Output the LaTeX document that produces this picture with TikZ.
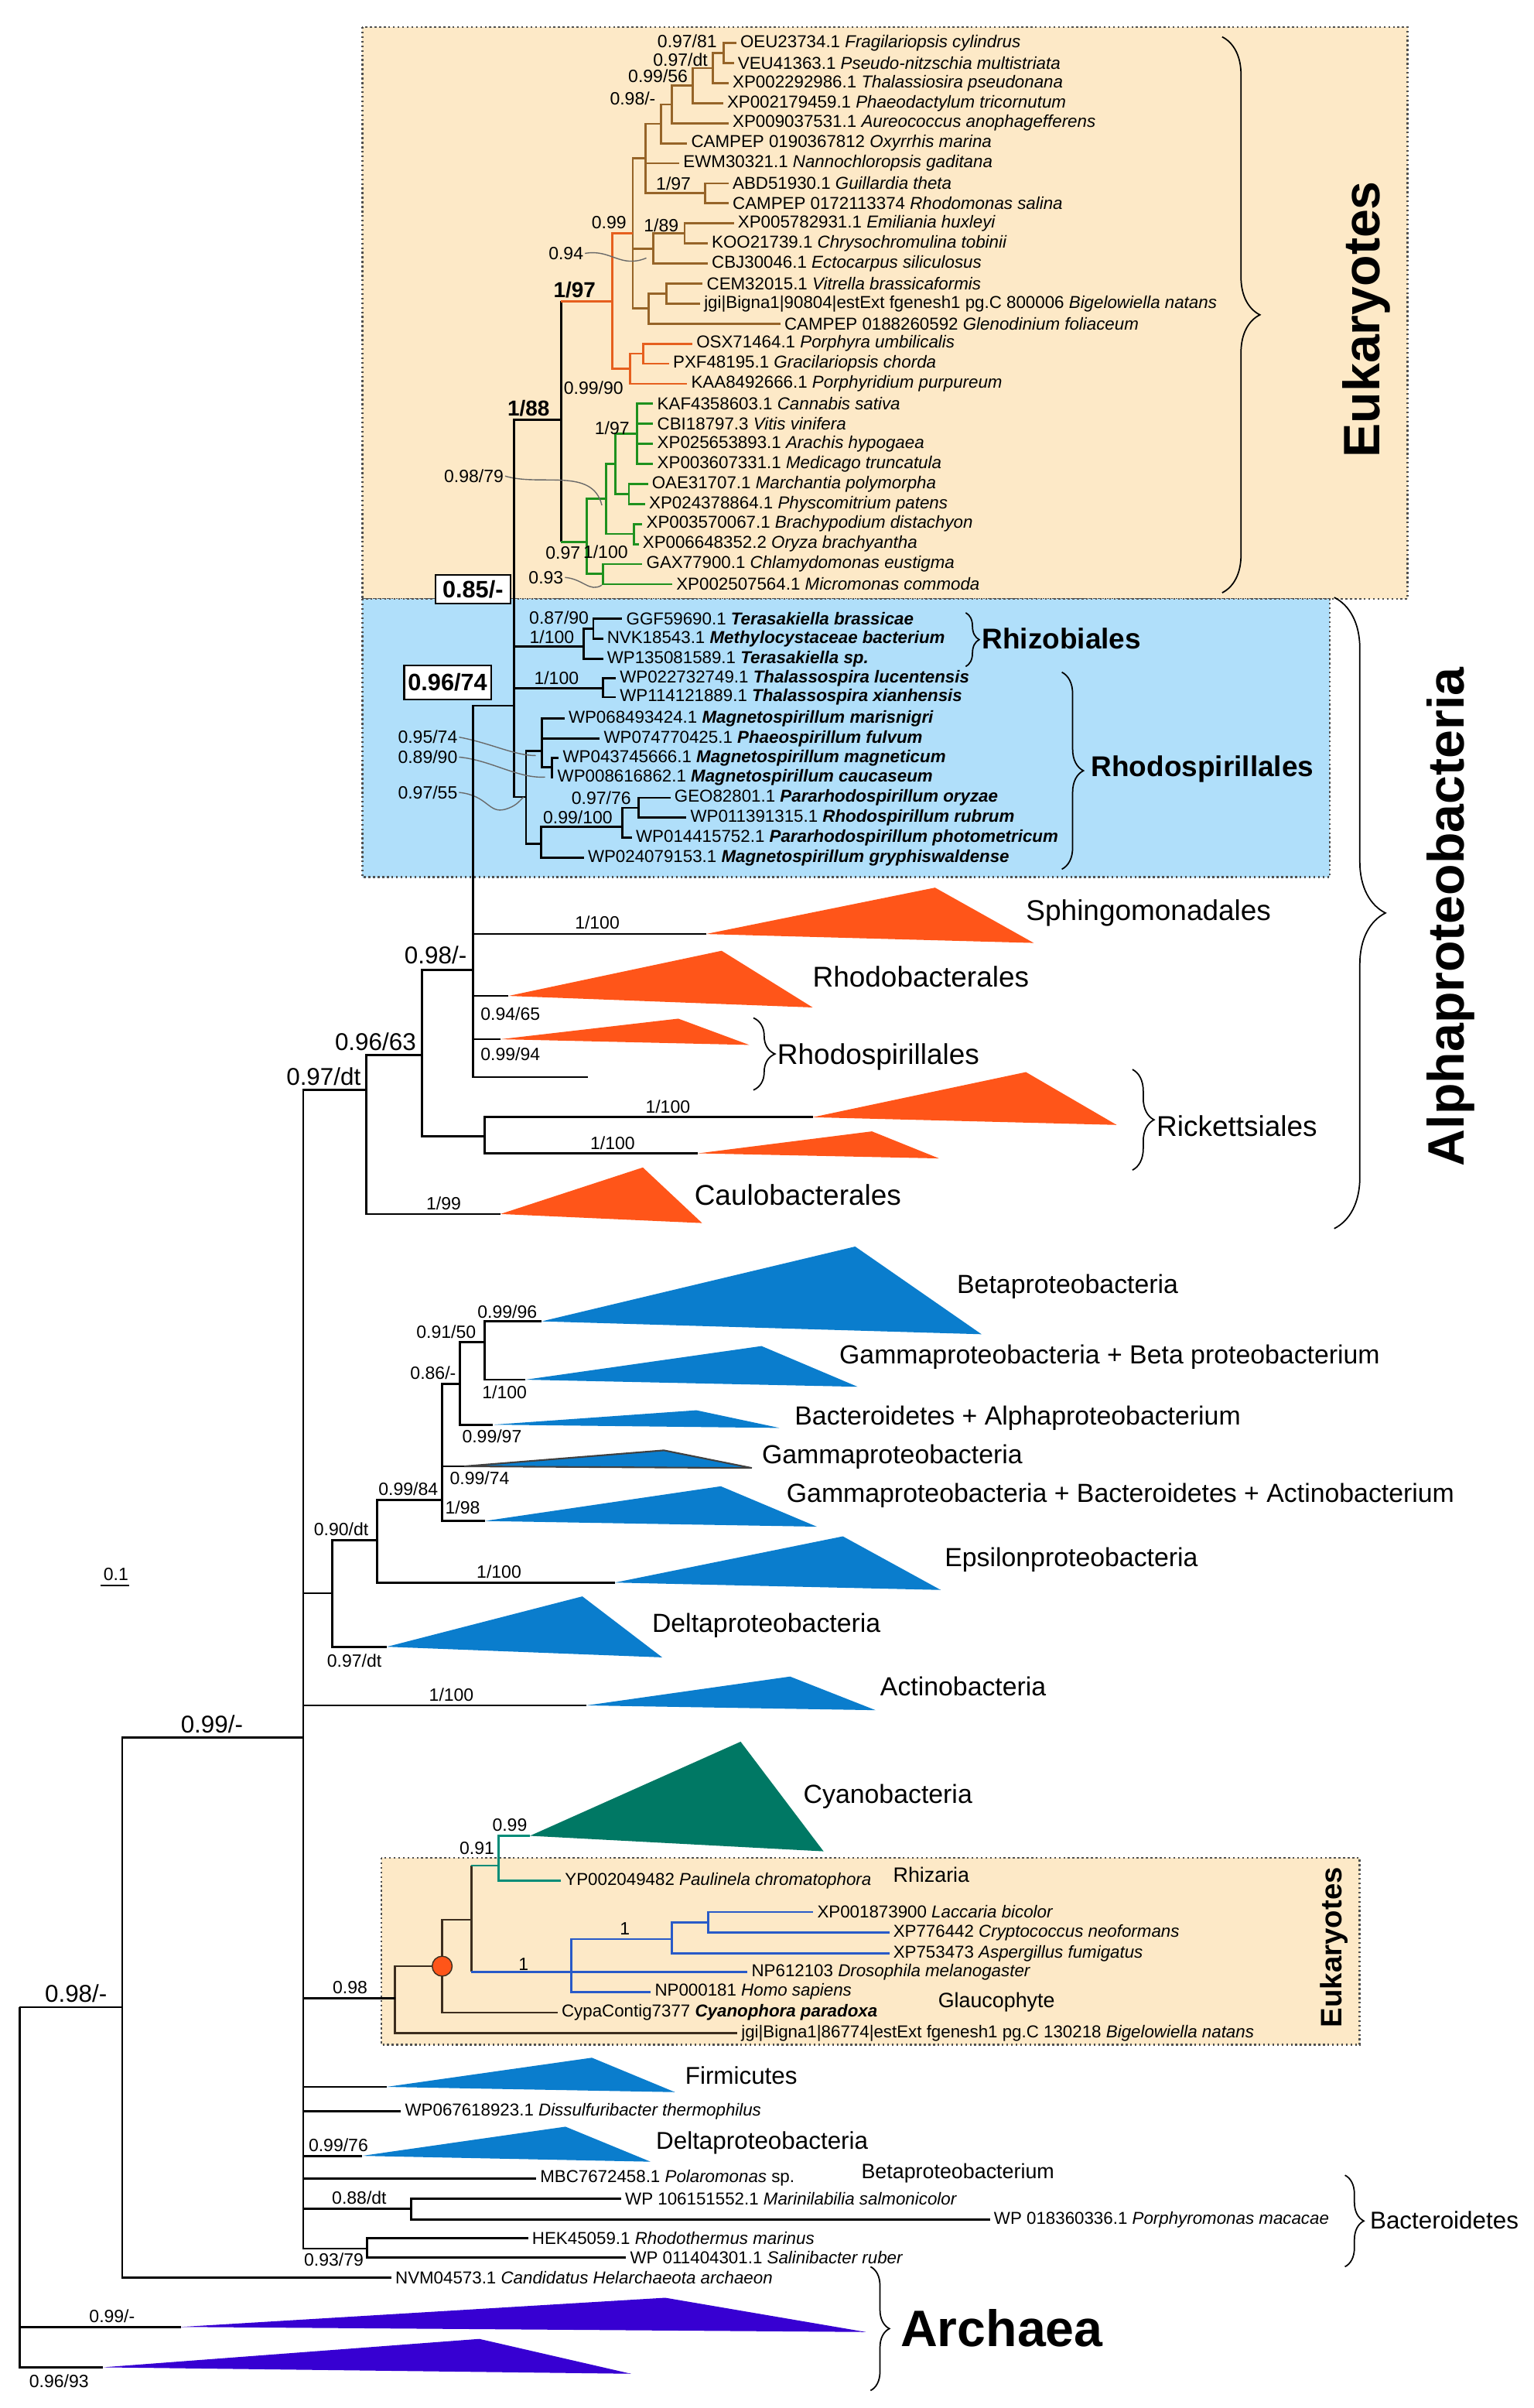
\documentclass[tikz,border=0pt]{standalone}
\usepackage{fontspec}
\setmainfont{Liberation Sans}
\usetikzlibrary{decorations.pathreplacing}

\definecolor{eukbg}{RGB}{253,233,199}
\definecolor{alphabg}{RGB}{176,223,250}
\definecolor{brownbr}{RGB}{150,100,40}
\definecolor{orangebr}{RGB}{230,95,30}
\definecolor{greenbr}{RGB}{30,145,30}
\definecolor{tealbr}{RGB}{0,140,120}
\definecolor{bluebr}{RGB}{40,90,200}
\definecolor{darkbr}{RGB}{60,45,30}
\definecolor{alphatri}{RGB}{255,85,25}
\definecolor{protri}{RGB}{10,125,205}
\definecolor{cyantri}{RGB}{0,120,100}
\definecolor{archtri}{RGB}{55,0,210}
\definecolor{leadgray}{RGB}{105,105,105}
\definecolor{boxline}{RGB}{80,80,80}

\tikzset{
  brln/.style={line width=0.8pt},
  leaf/.style={anchor=west, inner xsep=1.3pt, inner ysep=0pt, font=\fontsize{6.4}{7}\selectfont},
  supp/.style={inner sep=0.4pt, font=\fontsize{6.6}{7}\selectfont},
  bigsupp/.style={inner sep=0.4pt, font=\fontsize{9}{10}\selectfont},
  boldsupp/.style={inner sep=0.4pt, font=\bfseries\fontsize{8}{9}\selectfont},
  boxlab/.style={draw, fill=white, line width=0.6pt, inner sep=0pt, font=\bfseries\fontsize{8.8}{10}\selectfont},
  cladea/.style={anchor=west, inner sep=0pt, font=\fontsize{10.6}{12}\selectfont},
  clade/.style={anchor=west, inner sep=0pt, font=\fontsize{9.7}{11}\selectfont},
  cladesm/.style={anchor=west, inner sep=0pt, font=\fontsize{9}{11}\selectfont},
  tag/.style={anchor=west, inner sep=0pt, font=\fontsize{7.7}{9}\selectfont},
  order/.style={anchor=west, inner sep=0pt, font=\bfseries\fontsize{10.6}{12}\selectfont},
  bigtitle/.style={inner sep=0pt, font=\bfseries\fontsize{19}{22}\selectfont},
  lead/.style={leadgray, line width=0.4pt},
  curly/.style={decorate, decoration={brace, amplitude=#1}, line width=0.5pt},
  boxframe/.style={boxline, densely dotted, line width=0.7pt}
}

\begin{document}
\begin{tikzpicture}[x=0.2mm, y=-0.2mm]
\useasboundingbox (0,0) rectangle (999,1568);
\fill[white] (0,0) rectangle (999,1568);

% shaded boxes
\draw[boxframe, fill=eukbg] (236,17.6) rectangle (916.8,390);
\draw[boxframe, fill=alphabg] (236,390) rectangle (866.2,571.2);
\draw[boxframe, fill=eukbg] (248.5,1209.7) rectangle (885.6,1331.5);

% eukaryote leaves (top box)
\node[leaf] (fcyl) at (479.6,28.0) {OEU23734.1 \textit{Fragilariopsis cylindrus}};
\node[leaf] (pmul) at (478.0,41.1) {VEU41363.1 \textit{Pseudo-nitzschia multistriata}};
\node[leaf] (tpse) at (474.6,54.1) {XP002292986.1 \textit{Thalassiosira pseudonana}};
\node[leaf] (ptri) at (471.0,67.2) {XP002179459.1 \textit{Phaeodactylum tricornutum}};
\node[leaf] (aano) at (474.6,80.2) {XP009037531.1 \textit{Aureococcus anophagefferens}};
\node[leaf] (omar) at (447.6,93.3) {CAMPEP 0190367812 \textit{Oxyrrhis marina}};
\node[leaf] (ngad) at (442.5,106.3) {EWM30321.1 \textit{Nannochloropsis gaditana}};
\node[leaf] (gthe) at (474.6,119.4) {ABD51930.1 \textit{Guillardia theta}};
\node[leaf] (rsal) at (474.6,132.4) {CAMPEP 0172113374 \textit{Rhodomonas salina}};
\node[leaf] (ehux) at (478.0,145.5) {XP005782931.1 \textit{Emiliania huxleyi}};
\node[leaf] (ctob) at (461.0,158.5) {KOO21739.1 \textit{Chrysochromulina tobinii}};
\node[leaf] (esil) at (461.0,171.6) {CBJ30046.1 \textit{Ectocarpus siliculosus}};
\node[leaf] (vbra) at (457.7,184.6) {CEM32015.1 \textit{Vitrella brassicaformis}};
\node[leaf] (bnat) at (456.0,197.7) {jgi|Bigna1|90804|estExt fgenesh1 pg.C 800006 \textit{Bigelowiella natans}};
\node[leaf] (gfol) at (508.3,210.7) {CAMPEP 0188260592 \textit{Glenodinium foliaceum}};
\node[leaf] (pumb) at (451.0,223.8) {OSX71464.1 \textit{Porphyra umbilicalis}};
\node[leaf] (gcho) at (435.8,236.8) {PXF48195.1 \textit{Gracilariopsis chorda}};
\node[leaf] (ppur) at (447.6,249.9) {KAA8492666.1 \textit{Porphyridium purpureum}};
\node[leaf] (csat) at (425.5,262.9) {KAF4358603.1 \textit{Cannabis sativa}};
\node[leaf] (vvin) at (425.5,276.0) {CBI18797.3 \textit{Vitis vinifera}};
\node[leaf] (ahyp) at (425.5,289.0) {XP025653893.1 \textit{Arachis hypogaea}};
\node[leaf] (mtru) at (425.5,302.1) {XP003607331.1 \textit{Medicago truncatula}};
\node[leaf] (mpol) at (422.0,315.1) {OAE31707.1 \textit{Marchantia polymorpha}};
\node[leaf] (ppat) at (420.2,328.2) {XP024378864.1 \textit{Physcomitrium patens}};
\node[leaf] (bdis) at (418.4,341.2) {XP003570067.1 \textit{Brachypodium distachyon}};
\node[leaf] (obra) at (416.0,354.3) {XP006648352.2 \textit{Oryza brachyantha}};
\node[leaf] (ceus) at (418.4,367.3) {GAX77900.1 \textit{Chlamydomonas eustigma}};
\node[leaf] (mcom) at (437.9,380.4) {XP002507564.1 \textit{Micromonas commoda}};

% internal nodes (top box)
\coordinate (n1) at (471.2,34.5);
\coordinate (n2) at (464.4,44.3);
\coordinate (n3) at (451.0,55.7);
\coordinate (n4) at (437.4,68.0);
\coordinate (n5) at (430.7,80.6);
\coordinate (n6) at (420.6,103.2);
\coordinate (n7) at (459.4,125.9);
\coordinate (n8) at (445.9,152.0);
\coordinate (n9) at (425.6,161.8);
\coordinate (n10) at (434.1,191.1);
\coordinate (n11) at (422.3,200.9);
\coordinate (n12) at (412.1,152.1);
\coordinate (n13) at (418.9,230.3);
\coordinate (n14) at (410.4,240.1);
\coordinate (n15) at (398.6,196.1);
\coordinate (ga) at (414.9,282.5);
\coordinate (gb) at (409.6,321.6);
\coordinate (gp) at (400.8,302.0);
\coordinate (gc) at (413.1,347.7);
\coordinate (gq) at (394.7,324.9);
\coordinate (gd) at (392.6,373.8);
\coordinate (gr) at (382.0,352.8);
\coordinate (g88) at (365.4,273.5);

% brown clade
\draw[brln,brownbr] (n1) |- (fcyl.west) (n1) |- (pmul.west);
\draw[brln,brownbr] (n2) |- (n1) (n2) |- (tpse.west);
\draw[brln,brownbr] (n3) |- (n2) (n3) |- (ptri.west);
\draw[brln,brownbr] (n4) |- (n3) (n4) |- (aano.west);
\draw[brln,brownbr] (n5) |- (n4) (n5) |- (omar.west);
\draw[brln,brownbr] (n7) |- (gthe.west) (n7) |- (rsal.west);
\draw[brln,brownbr] (n6) |- (n5) (n6) |- (ngad.west) (n6) |- (n7);
\draw[brln,brownbr] (n8) |- (ehux.west) (n8) |- (ctob.west);
\draw[brln,brownbr] (n9) |- (n8) (n9) |- (esil.west);
\draw[brln,brownbr] (n10) |- (vbra.west) (n10) |- (bnat.west);
\draw[brln,brownbr] (n11) |- (n10) (n11) |- (gfol.west);
\draw[brln,brownbr] (n12) |- (n6) (n12) |- (n9) (n12) |- (n11);
% red algae
\draw[brln,orangebr] (n13) |- (pumb.west) (n13) |- (gcho.west);
\draw[brln,orangebr] (n14) |- (n13) (n14) |- (ppur.west);
\draw[brln,orangebr] (n15) |- (n12) (n15) |- (n14);
% green plants
\draw[brln,greenbr] (ga) |- (csat.west) (ga) |- (vvin.west) (ga) |- (ahyp.west) (ga) |- (mtru.west);
\draw[brln,greenbr] (gb) |- (mpol.west) (gb) |- (ppat.west);
\draw[brln,greenbr] (gp) |- (ga) (gp) |- (gb);
\draw[brln,greenbr] (gc) |- (bdis.west) (gc) |- (obra.west);
\draw[brln,greenbr] (gq) |- (gp) (gq) |- (gc);
\draw[brln,greenbr] (gd) |- (ceus.west) (gd) |- (mcom.west);
\draw[brln,greenbr] (gr) |- (gq) (gr) |- (gd);
\draw[brln] (g88) -- (g88 |- n15);
\draw[brln,orangebr] (g88 |- n15) -- (n15);
\draw[brln] (g88) -- (g88 |- gr);
\draw[brln,greenbr] (g88 |- gr) -- (gr);

% supports (top box)
\node[supp, anchor=south east] (bs1) at (468,32) {0.97/81};
\node[supp, anchor=south east] (bs2) at (462,44) {0.97/dt};
\node[supp, anchor=south east] (bs3) at (449,55) {0.99/56};
\node[supp, anchor=south east] (bs4) at (428,69.5) {0.98/-};
\node[supp, anchor=south east] (bs5) at (451,125) {1/97};
\node[supp, anchor=south east] (bs6) at (409,150) {0.99};
\node[supp, anchor=south east] (bs7) at (443,152) {1/89};
\node[supp, anchor=east] (bs8) at (381,165) {0.94};
\node[boldsupp, anchor=south east] (bs9) at (389,195) {1/97};
\node[supp, anchor=north east] (bs10) at (407,247.5) {0.99/90};
\node[boldsupp, anchor=south east] (bs11) at (359,272) {1/88};
\node[supp, anchor=east] (bs12) at (411,279) {1/97};
\node[supp, anchor=east] (bs13) at (329,310) {0.98/79};
\node[supp, anchor=north east] (bs14) at (410,354) {1/100};
\node[supp, anchor=north east] (bs15) at (379,355) {0.97};
\node[supp, anchor=east] (bs16) at (368,376) {0.93};
\draw[lead] (bs8.east) .. controls (398,162) and (404,175) .. (421,168);
\draw[lead] (bs13.east) .. controls (352,317) and (386,304) .. (392,329);
\draw[lead] (bs16.east) .. controls (380,377) and (384,386) .. (392,381);

% alphaproteobacteria leaves (blue box)
\node[leaf] (tbra) at (405.3,403.0) {GGF59690.1 \textbf{\textit{Terasakiella brassicae}}};
\node[leaf] (mbac) at (392.8,416.0) {NVK18543.1 \textbf{\textit{Methylocystaceae bacterium}}};
\node[leaf] (tesp) at (392.8,429.0) {WP135081589.1 \textbf{\textit{Terasakiella sp.}}};
\node[leaf] (tluc) at (401.1,441.5) {WP022732749.1 \textbf{\textit{Thalassospira lucentensis}}};
\node[leaf] (txia) at (401.1,454.0) {WP114121889.1 \textbf{\textit{Thalassospira xianhensis}}};
\node[leaf] (mmar) at (367.7,468.0) {WP068493424.1 \textbf{\textit{Magnetospirillum marisnigri}}};
\node[leaf] (pful) at (390.7,481.0) {WP074770425.1 \textbf{\textit{Phaeospirillum fulvum}}};
\node[leaf] (mmag) at (364.0,493.5) {WP043745666.1 \textbf{\textit{Magnetospirillum magneticum}}};
\node[leaf] (mcau) at (360.5,506.0) {WP008616862.1 \textbf{\textit{Magnetospirillum caucaseum}}};
\node[leaf] (pory) at (436.7,519.5) {GEO82801.1 \textbf{\textit{Pararhodospirillum oryzae}}};
\node[leaf] (rrub) at (447.1,532.5) {WP011391315.1 \textbf{\textit{Rhodospirillum rubrum}}};
\node[leaf] (ppho) at (411.6,545.5) {WP014415752.1 \textbf{\textit{Pararhodospirillum photometricum}}};
\node[leaf] (mgry) at (380.3,558.5) {WP024079153.1 \textbf{\textit{Magnetospirillum gryphiswaldense}}};

\coordinate (rz1) at (386.5,409.5);
\coordinate (rz2) at (380.3,421.0);
\coordinate (tha) at (392.8,448.0);
\coordinate (ml1) at (359.4,499.7);
\coordinate (ml) at (353.1,489.0);
\coordinate (pr1) at (415.8,526.0);
\coordinate (pr2) at (405.3,538.5);
\coordinate (pn) at (352.3,549.5);
\coordinate (msp) at (342.6,519.0);
\coordinate (h85) at (335.0,459.5);

\draw[brln] (rz1) |- (tbra.west) (rz1) |- (mbac.west);
\draw[brln] (rz2) |- (rz1) (rz2) |- (tesp.west);
\draw[brln] (tha) |- (tluc.west) (tha) |- (txia.west);
\draw[brln] (ml1) |- (mmag.west) (ml1) |- (mcau.west);
\draw[brln] (ml) |- (mmar.west) (ml) |- (pful.west) (ml) |- (ml1);
\draw[brln] (pr1) |- (pory.west) (pr1) |- (rrub.west);
\draw[brln] (pr2) |- (pr1) (pr2) |- (ppho.west);
\draw[brln] (pn) |- (pr2) (pn) |- (mgry.west);
\draw[brln] (msp) |- (ml) (msp) |- (pn);
\draw[brln] (h85) |- (g88) (h85) |- (rz2) (h85) |- (tha) (h85) |- (msp);

% supports (blue box)
\node[supp, anchor=south east] (bs17) at (384.5,407.5) {0.87/90};
\node[supp, anchor=south east] (bs18) at (375,420) {1/100};
\node[supp, anchor=south east] (bs19) at (378,447) {1/100};
\node[supp, anchor=east] (bs20) at (299,480) {0.95/74};
\node[supp, anchor=east] (bs21) at (299,493) {0.89/90};
\node[supp, anchor=east] (bs22) at (299,516) {0.97/55};
\node[supp, anchor=south east] (bs23) at (412,525) {0.97/76};
\node[supp, anchor=south east] (bs24) at (400,537.5) {0.99/100};
\draw[lead] (bs20.east) .. controls (320,484) and (335,492) .. (349,492);
\draw[lead] (bs21.east) .. controls (320,495) and (337,507) .. (355,506);
\draw[lead] (bs22.east) .. controls (318,518) and (318,530) .. (329,527) .. controls (336,525) and (338,522) .. (341,519);
\node[boxlab, minimum width=9.8mm, minimum height=3.7mm] (bx85) at (308,383.8) {0.85/-};
\node[boxlab, minimum width=11.3mm, minimum height=4.4mm] (bx96) at (291.5,444.4) {0.96/74};

% rest of Alphaproteobacteria
\coordinate (a98) at (308.0,631.7);
\coordinate (a96) at (274.7,687.1);
\coordinate (rk) at (315.8,740.1);
\coordinate (a97) at (238.6,709.8);
\coordinate (tsph) at (459.8,608.2);
\coordinate (trba) at (331.2,648.5);
\coordinate (trsp) at (326.0,676.7);
\coordinate (rsp2) at (382.7,701.4);
\coordinate (trk1) at (529.3,727.5);
\coordinate (trk2) at (454.7,751.0);
\coordinate (tcau) at (326.0,790.5);
\draw[brln] (a98) |- (h85) (a98) |- (tsph) (a98) |- (trba) (a98) |- (trsp) (a98) |- (rsp2);
\draw[brln] (rk) |- (trk1) (rk) |- (trk2);
\draw[brln] (a96) |- (a98) (a96) |- (rk);
\draw[brln] (a97) |- (a96) (a97) |- (tcau);
\fill[alphatri] (tsph) -- (609,578) -- (673.3,614) -- cycle;
\fill[alphatri] (trba) -- (470,619.1) -- (529.3,656) -- cycle;
\fill[alphatri] (trsp) -- (441.8,663.3) -- (488,680.4) -- cycle;
\fill[alphatri] (trk1) -- (668.2,698.1) -- (727.3,732.5) -- cycle;
\fill[alphatri] (trk2) -- (567.9,736.7) -- (611.6,754.3) -- cycle;
\fill[alphatri] (tcau) -- (418.7,760.2) -- (457.3,796.4) -- cycle;
\node[bigsupp, anchor=south east] (bs25) at (305,629) {0.98/-};
\node[supp, anchor=south] (bs26) at (389,606) {1/100};
\node[supp, anchor=north west] (bs27) at (312,655) {0.94/65};
\node[supp, anchor=north west] (bs28) at (312,681) {0.99/94};
\node[bigsupp, anchor=south east] (bs29) at (272,685) {0.96/63};
\node[bigsupp, anchor=south east] (bs30) at (236,708) {0.97/dt};
\node[supp, anchor=south] (bs31) at (435,726) {1/100};
\node[supp, anchor=south] (bs32) at (399,749.5) {1/100};
\node[supp, anchor=south] (bs33) at (289,789) {1/99};
\node[cladea] (lsph) at (668,594.7) {Sphingomonadales};
\node[cladea] (lrba) at (529,635.9) {Rhodobacterales};
\node[cladea] (lrsp) at (506,688) {Rhodospirillales};
\node[cladea] (lrik) at (753,733.4) {Rickettsiales};
\node[cladea] (lcau) at (452,777.9) {Caulobacterales};

% other proteobacteria
\coordinate (bb) at (197.5,1131.4);
\coordinate (d0) at (216.5,1037.4);
\coordinate (d1) at (245.6,1002.9);
\coordinate (d2) at (288.0,976.8);
\coordinate (d3) at (299.7,901.2);
\coordinate (d4) at (315.7,873.8);
\coordinate (tbet) at (352.8,860.4);
\coordinate (tgb) at (342.2,898.4);
\coordinate (tba) at (321.0,927.7);
\coordinate (tgam) at (302.4,954.8);
\coordinate (tgba) at (315.7,990.4);
\coordinate (teps) at (400.5,1030.5);
\coordinate (tdel) at (252.0,1072.3);
\coordinate (tact) at (382.0,1110.5);
\draw[brln] (d4) |- (tbet) (d4) |- (tgb);
\draw[brln] (d3) |- (d4) (d3) |- (tba);
\draw[brln] (d2) |- (d3) (d2) |- (tgam) (d2) |- (tgba);
\draw[brln] (d1) |- (d2) (d1) |- (teps);
\draw[brln] (d0) |- (d1) (d0) |- (tdel);
\fill[protri] (tbet) -- (557,811.7) -- (639.3,868.8) -- cycle;
\fill[protri] (tgb) -- (496,876.5) -- (558.6,903) -- cycle;
\fill[protri] (tba) -- (453.6,918.3) -- (507.7,929.8) -- cycle;
\filldraw[fill=protri, draw=black!75, line width=0.6pt] (tgam) -- (432.4,944.4) -- (489.7,955.9) -- cycle;
\fill[protri] (tgba) -- (469.5,967.8) -- (532,994.1) -- cycle;
\fill[protri] (teps) -- (549,1000.4) -- (612.7,1035.3) -- cycle;
\fill[protri] (tdel) -- (379.3,1039.5) -- (431.3,1079.2) -- cycle;
\fill[protri] (tact) -- (514.6,1091.7) -- (570.3,1113.6) -- cycle;
\node[supp, anchor=south west] (bs34) at (310,859.5) {0.99/96};
\node[supp, anchor=south east] (bs35) at (311,872.5) {0.91/50};
\node[supp, anchor=north west] (bs36) at (313,901) {1/100};
\node[supp, anchor=south east] (bs37) at (298,899.5) {0.86/-};
\node[supp, anchor=north west] (bs38) at (300,930) {0.99/97};
\node[supp, anchor=north west] (bs39) at (292,957) {0.99/74};
\node[supp, anchor=south west] (bs40) at (245.5,975) {0.99/84};
\node[supp, anchor=west] (bs41) at (289,981.5) {1/98};
\node[supp, anchor=south east] (bs42) at (241,1001) {0.90/dt};
\node[supp, anchor=south] (bs43) at (325,1029) {1/100};
\node[supp, anchor=north west] (bs44) at (212,1076) {0.97/dt};
\node[supp, anchor=south] (bs45) at (294,1109) {1/100};
\node[clade] (lbet) at (623,837.8) {Betaproteobacteria};
\node[clade] (lgb) at (546.4,883.8) {Gammaproteobacteria + Beta proteobacterium};
\node[clade] (lba) at (517.3,923.5) {Bacteroidetes + Alphaproteobacterium};
\node[clade] (lgam) at (496,948.6) {Gammaproteobacteria};
\node[clade] (lgba) at (512,973.7) {Gammaproteobacteria + Bacteroidetes + Actinobacterium};
\node[clade] (leps) at (615,1015.4) {Epsilonproteobacteria};
\node[clade] (ldel) at (424.4,1058.3) {Deltaproteobacteria};
\node[clade] (lact) at (573,1098) {Actinobacteria};

% lower eukaryotes and cyanobacteria
\node[leaf] (pchr) at (365.4,1224.8) {YP002049482 \textit{Paulinela chromatophora}};
\node[leaf] (lbic) at (529.7,1245.0) {XP001873900 \textit{Laccaria bicolor}};
\node[leaf] (cneo) at (579.2,1258.4) {XP776442 \textit{Cryptococcus neoformans}};
\node[leaf] (afum) at (579.2,1271.9) {XP753473 \textit{Aspergillus fumigatus}};
\node[leaf] (dmel) at (486.9,1284.0) {NP612103 \textit{Drosophila melanogaster}};
\node[leaf] (hsap) at (423.9,1297.0) {NP000181 \textit{Homo sapiens}};
\node[leaf] (cpar) at (363.2,1310.5) {CypaContig7377 \textbf{\textit{Cyanophora paradoxa}}};
\node[leaf] (bnat2) at (480.2,1324.0) {jgi|Bigna1|86774|estExt fgenesh1 pg.C 130218 \textit{Bigelowiella natans}};
\coordinate (e0) at (257.4,1301.3);
\coordinate (ec) at (288.0,1280.3);
\coordinate (e1) at (306.9,1250.0);
\coordinate (te) at (324.9,1214.8);
\coordinate (op) at (372.2,1284.0);
\coordinate (fu) at (437.4,1262.6);
\coordinate (lc) at (461.3,1251.7);
\coordinate (tcya) at (345.2,1195.4);
\draw[brln,bluebr] (lc) |- (lbic.west) (lc) |- (cneo.west);
\draw[brln,bluebr] (fu) |- (lc) (fu) |- (afum.west);
\draw[brln,bluebr] (op) |- (fu) (op) |- (dmel.west) (op) |- (hsap.west);
\draw[brln,tealbr] (te) |- (tcya) (te) |- (pchr.west);
\draw[brln,darkbr] (e1) -- (e1 |- te);
\draw[brln,tealbr] (e1 |- te) -- (te);
\draw[brln,darkbr] (e1) -- (e1 |- op);
\draw[brln,bluebr] (e1 |- op) -- (op);
\draw[brln,darkbr] (ec) |- (e1) (ec) |- (cpar.west);
\draw[brln,darkbr] (e0) |- (ec) (e0) |- (bnat2.west);
\fill[cyantri] (tcya) -- (482.4,1134.1) -- (536.4,1205.5) -- cycle;
\node[circle, fill=alphatri, draw=darkbr, line width=0.4pt, minimum size=2.6mm, inner sep=0pt] (ecdot) at (ec) {};
\node[supp, anchor=south] (bs46) at (228,1299.5) {0.98};
\node[supp, anchor=south] (bs47) at (332,1193.5) {0.99};
\node[supp, anchor=south east] (bs48) at (323,1208.5) {0.91};
\node[supp, anchor=south] (bs49) at (341,1284) {1};
\node[supp, anchor=south] (bs50) at (407,1261) {1};
\node[clade] (lcya) at (523,1170) {Cyanobacteria};
\node[tag] (lrhz) at (581.4,1221) {Rhizaria};
\node[tag] (lgla) at (610.7,1303.5) {Glaucophyte};

% bottom of the backbone
\node[leaf] (dthe) at (261.2,1374.7) {WP067618923.1 \textit{Dissulfuribacter thermophilus}};
\node[leaf] (polr) at (349.2,1418.4) {MBC7672458.1 \textit{Polaromonas} sp.};
\node[leaf] (msal) at (404.6,1431.5) {WP 106151552.1 \textit{Marinilabilia salmonicolor}};
\node[leaf] (pmac) at (644.8,1445.3) {WP 018360336.1 \textit{Porphyromonas macacae}};
\node[leaf] (rmar) at (344.0,1457.5) {HEK45059.1 \textit{Rhodothermus marinus}};
\node[leaf] (srub) at (407.8,1470.1) {WP 011404301.1 \textit{Salinibacter ruber}};
\node[leaf] (hela) at (254.9,1483.2) {NVM04573.1 \textit{Candidatus Helarchaeota archaeon}};
\coordinate (tfir) at (251.7,1358.9);
\coordinate (tde2) at (235.7,1403.8);
\coordinate (n88) at (267.6,1438.2);
\coordinate (n93) at (239.0,1464.2);
\coordinate (r99) at (79.6,1307.0);
\coordinate (root) at (12.7,1307.0);
\coordinate (tar1) at (117.9,1515.2);
\coordinate (tar2) at (66.9,1541.5);
\draw[brln] (n88) |- (msal.west) (n88) |- (pmac.west);
\draw[brln] (n93) |- (rmar.west) (n93) |- (srub.west);
\draw[brln] (bb) |- (a97) (bb) |- (d0) (bb) |- (tact) (bb) |- (e0) (bb) |- (tfir) (bb) |- (dthe.west)
  (bb) |- (tde2) (bb) |- (polr.west) (bb) |- (n88) (bb) |- (n93);
\draw[brln] (r99) |- (bb) (r99) |- (hela.west);
\draw[brln] (root) -- (r99) (root) |- (tar1) (root) |- (tar2);
\fill[protri] (tfir) -- (385.5,1339.9) -- (439.6,1362.3) -- cycle;
\fill[protri] (tde2) -- (368.3,1384.8) -- (423.7,1407.6) -- cycle;
\fill[archtri] (tar1) -- (433.3,1496.2) -- (563.9,1518.5) -- cycle;
\fill[archtri] (tar2) -- (312.2,1523) -- (411,1545.7) -- cycle;
\node[supp, anchor=south west] (bs51) at (200,1402) {0.99/76};
\node[supp, anchor=south] (bs52) at (234,1436.5) {0.88/dt};
\node[supp, anchor=north west] (bs53) at (197,1466) {0.93/79};
\node[bigsupp, anchor=south] (bs54) at (138,1129.5) {0.99/-};
\node[bigsupp, anchor=south] (bs55) at (49.5,1305) {0.98/-};
\node[supp, anchor=south] (bs56) at (73,1513.5) {0.99/-};
\node[supp, anchor=north west] (bs57) at (18,1545) {0.96/93};
\node[cladesm] (lfir) at (446,1351.7) {Firmicutes};
\node[cladesm] (lde2) at (427,1395.4) {Deltaproteobacteria};
\node[tag] (lbp) at (560.7,1415) {Betaproteobacterium};
\node[cladesm] (lbac) at (892,1445.8) {Bacteroidetes};

% scale bar
\node[supp] (scl) at (75.5,1025) {0.1};
\draw[line width=0.6pt] (65.5,1032.4) -- (84,1032.4);

% braces and group names
\draw[curly=14pt] (796,24) -- (796,386);
\draw[curly=19pt] (869,389) -- (869,800);
\draw[curly=5pt] (629,399) -- (629,434);
\draw[curly=8pt] (691.6,437.7) -- (691.6,566);
\draw[curly=8pt] (490.7,662.8) -- (490.7,709.8);
\draw[curly=8pt] (737.6,696.4) -- (737.6,761.9);
\draw[curly=7pt] (876,1416.4) -- (876,1476);
\draw[curly=7pt] (567,1476) -- (567,1556.6);
\node[order] (lrhi) at (639.3,416) {Rhizobiales};
\node[order] (lrho) at (710.4,500.7) {Rhodospirillales};
\node[bigtitle, rotate=90] (teuk) at (890,208) {Eukaryotes};
\node[bigtitle, rotate=90] (talp) at (945,597) {Alphaproteobacteria};
\node[bigtitle, anchor=west] (tarc) at (586.2,1516) {Archaea};
\node[inner sep=0pt, rotate=90, font=\bfseries\fontsize{11}{12}\selectfont] (teuk2) at (869,1268) {Eukaryotes};
\end{tikzpicture}
\end{document}
